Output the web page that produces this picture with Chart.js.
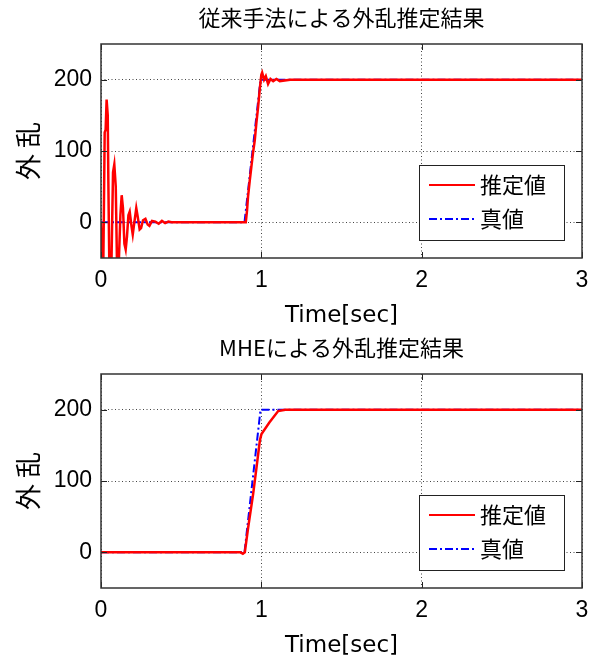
<!DOCTYPE html>
<html>
<head>
<meta charset="utf-8">
<script src="https://cdn.jsdelivr.net/npm/chart.js@4.4.1/dist/chart.umd.min.js"></script>
<style>
  body { margin: 0; background: #fff; }
  canvas { display: block; }
</style>
</head>
<body>
<canvas id="topChart" width="602" height="330"></canvas>
<canvas id="bottomChart" width="602" height="330"></canvas>
<script>
// axis ticks
const xTicks = [0, 1, 2, 3];
const yTicks = [0, 100, 200];

// true disturbance (真値)
const tTrue = [0, 0.895, 0.995, 3];
const trueVals = [0, 0, 200, 200];

// conventional method estimate
const tConv = [0, 0.0125, 0.023, 0.029, 0.035, 0.042, 0.046, 0.054, 0.065, 0.075,
  0.083, 0.092, 0.1, 0.112, 0.121, 0.129, 0.137, 0.146, 0.154, 0.162,
  0.171, 0.179, 0.19, 0.198, 0.208, 0.22, 0.229, 0.241, 0.25, 0.262,
  0.277, 0.291, 0.302, 0.318, 0.339, 0.36, 0.38, 0.4, 0.42, 0.44,
  0.903, 0.911, 0.917, 0.928, 0.938, 0.948, 0.959, 0.969, 0.98, 0.99,
  1.0, 1.005, 1.017, 1.028, 1.042, 1.057, 1.074, 1.094, 1.115, 1.18, 3];
const convVals = [0, -100, 126, 130, 172, 150, 54, -100, -60, 70,
  81, 50, -60, -50, 10, 38, 20, -30, -38, -20,
  10, 15, -5, -17, 0, 20, 8, -10, -8, 3,
  5, -3, -5, 2, 1, -2, 2, -1, 1, 0,
  0, 17, 36, 59, 78, 97, 115, 139, 162, 186,
  207, 210, 200, 205, 194, 201, 198, 201, 198, 200, 200];

// MHE estimate
const tMhe = [0, 0.87, 0.885, 0.897, 0.918, 0.949, 0.97, 0.991, 1.001, 1.05, 1.105, 1.15, 3];
const mheVals = [0, 0, -2, 0, 35, 82, 119, 157, 166, 182, 198, 200, 200];

const toPts = (xs, ys) => xs.map((x, i) => ({ x: x, y: ys[i] }));

// box, inner ticks and legend like the matlab figure
const frameLegend = {
  id: 'frameLegend',
  afterDatasetsDraw(chart) {
    const { ctx, chartArea: a, scales } = chart;
    ctx.save();
    ctx.strokeStyle = '#222';
    ctx.lineWidth = 1;
    ctx.beginPath();
    xTicks.forEach(v => {
      const px = Math.round(scales.x.getPixelForValue(v)) + 0.5;
      ctx.moveTo(px, a.bottom); ctx.lineTo(px, a.bottom - 6);
      ctx.moveTo(px, a.top); ctx.lineTo(px, a.top + 6);
    });
    yTicks.forEach(v => {
      const py = Math.round(scales.y.getPixelForValue(v)) + 0.5;
      ctx.moveTo(a.left, py); ctx.lineTo(a.left + 6, py);
      ctx.moveTo(a.right, py); ctx.lineTo(a.right - 6, py);
    });
    ctx.stroke();

    ctx.lineWidth = 1.5;
    ctx.strokeStyle = '#333';
    ctx.strokeRect(a.left, a.top, a.right - a.left, a.bottom - a.top);

    // legend box
    const bx = Math.round(a.right - 163), by = Math.round(a.bottom - 93);
    ctx.fillStyle = '#fff';
    ctx.fillRect(bx, by, 145, 75);
    ctx.lineWidth = 1;
    ctx.strokeStyle = '#222';
    ctx.strokeRect(bx + 0.5, by + 0.5, 145, 75);
    chart.data.datasets.forEach((ds, i) => {
      const y = by + 20 + i * 34;
      ctx.strokeStyle = ds.borderColor;
      ctx.lineWidth = 2;
      ctx.setLineDash(ds.borderDash || []);
      ctx.beginPath();
      ctx.moveTo(bx + 10, y); ctx.lineTo(bx + 56, y);
      ctx.stroke();
      ctx.setLineDash([]);
      ctx.fillStyle = '#000';
      ctx.font = '22px "Noto Sans CJK JP"';
      ctx.textBaseline = 'middle';
      ctx.textAlign = 'left';
      ctx.fillText(ds.label, bx + 61, y);
    });
    ctx.restore();
  }
};

function makeChart(id, title, tEst, estVals) {
  const ctx = document.getElementById(id).getContext('2d');
  return new Chart(ctx, {
    type: 'line',
    data: {
      datasets: [{
        label: '推定値',
        data: toPts(tEst, estVals),
        borderColor: '#ff0000',
        borderWidth: 2.5,
        pointRadius: 0,
        tension: 0
      }, {
        label: '真値',
        data: toPts(tTrue, trueVals),
        borderColor: '#0000ff',
        borderWidth: 2,
        borderDash: [8, 3, 2, 3],
        pointRadius: 0,
        tension: 0
      }]
    },
    options: {
      responsive: false,
      maintainAspectRatio: false,
      devicePixelRatio: 1,
      animation: false,
      layout: { padding: { left: 0, right: 20, top: 0, bottom: 0 } },
      plugins: {
        legend: { display: false },
        tooltip: { enabled: false },
        title: {
          display: true,
          text: title,
          fullSize: false,
          color: '#000',
          font: { family: '"Noto Sans CJK JP"', size: 22, weight: 'normal' },
          padding: { top: 4, bottom: 13.6 }
        }
      },
      scales: {
        x: {
          type: 'linear',
          min: 0,
          max: 3,
          afterBuildTicks: s => { s.ticks = xTicks.map(v => ({ value: v })); },
          afterFit: s => { s.height = 72; },
          grid: { color: '#444', lineWidth: 1, drawTicks: false },
          border: { display: false, dash: [1, 2.5] },
          ticks: {
            color: '#000',
            padding: 9,
            font: { family: '"Liberation Sans"', size: 23 }
          },
          title: {
            display: true,
            text: 'Time[sec]',
            color: '#000',
            font: { family: '"DejaVu Sans"', size: 23 },
            padding: { top: 0, bottom: 0 }
          }
        },
        y: {
          min: -50,
          max: 250,
          afterBuildTicks: s => { s.ticks = yTicks.map(v => ({ value: v })); },
          afterFit: s => { s.width = 101; },
          grid: { color: '#444', lineWidth: 1, drawTicks: false },
          border: { display: false, dash: [1, 2.5] },
          ticks: {
            color: '#000',
            padding: 9,
            font: { family: '"Liberation Sans"', size: 23 }
          },
          title: {
            display: true,
            text: '外 乱',
            color: '#000',
            font: { family: '"Noto Sans CJK JP"', size: 26 },
            padding: { top: 13, bottom: 0 }
          }
        }
      }
    },
    plugins: [frameLegend]
  });
}

makeChart('topChart', '従来手法による外乱推定結果', tConv, convVals);
makeChart('bottomChart', 'MHEによる外乱推定結果', tMhe, mheVals);
</script>
</body>
</html>
